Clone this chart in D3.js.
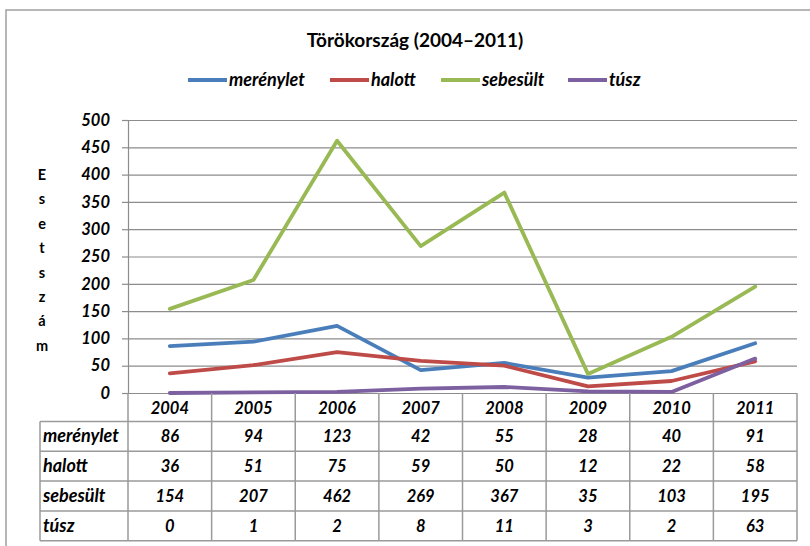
<!DOCTYPE html>
<html>
<head>
<meta charset="utf-8">
<script src="https://cdn.jsdelivr.net/npm/d3@7"></script>
<style>
  body { margin: 0; background: #fff; }
  text { font-family: Lato, "Open Sans", sans-serif; font-weight: bold; fill: #000; }
  .it { font-style: italic; }
</style>
</head>
<body>
<svg id="chart" width="810" height="546"></svg>
<script>
const years = ["2004", "2005", "2006", "2007", "2008", "2009", "2010", "2011"];
const merenylet = [86, 94, 123, 42, 55, 28, 40, 91];
const halott = [36, 51, 75, 59, 50, 12, 22, 58];
const sebesult = [154, 207, 462, 269, 367, 35, 103, 195];
const tusz = [0, 1, 2, 8, 11, 3, 2, 63];
const seriesNames = ["merénylet", "halott", "sebesült", "túsz"];
const yTicks = [0, 50, 100, 150, 200, 250, 300, 350, 400, 450, 500];
const axisLabel = "Esetszám";
const title = "Törökország (2004–2011)";

const colors = ["#4a7ebb", "#be4b48", "#98b954", "#7d60a0"];
const series = [merenylet, halott, sebesult, tusz];

const svg = d3.select("#chart");
const plot = { left: 128, right: 797, top: 120, bottom: 393 };
const wordSize = 18;   // text labels
const numSize = 16.5;  // digits

const xScale = d3.scaleBand().domain(years).range([plot.left, plot.right]);
const yScale = d3.scaleLinear().domain([0, 500]).range([plot.bottom, plot.top]);

// outer frame
svg.append("rect")
    .attr("x", 6).attr("y", 10)
    .attr("width", 820).attr("height", 560)
    .attr("fill", "none")
    .attr("stroke", "#a0a0a0")
    .attr("stroke-width", 1.5);

// title
svg.append("text")
    .attr("x", 415).attr("y", 47)
    .attr("text-anchor", "middle")
    .attr("font-size", 19)
    .text(title);

// legend
const legendX = [188, 330, 441, 568];
const legend = svg.append("g");
seriesNames.forEach((name, i) => {
    legend.append("line")
        .attr("x1", legendX[i]).attr("x2", legendX[i] + 39)
        .attr("y1", 80).attr("y2", 80)
        .attr("stroke", colors[i])
        .attr("stroke-width", 4);
    legend.append("text")
        .attr("class", "it")
        .attr("x", legendX[i] + 41).attr("y", 86)
        .attr("font-size", wordSize)
        .text(name);
});

// gridlines
const yGrid = d3.axisLeft(yScale)
    .tickValues(yTicks)
    .tickSize(-(plot.right - plot.left))
    .tickFormat("");
svg.append("g")
    .attr("transform", `translate(${plot.left},0)`)
    .call(yGrid)
    .call(g => g.select(".domain").remove())
    .call(g => g.selectAll("line").attr("stroke", "#8c8c8c").attr("stroke-width", 1.2));

// y axis
const yAxis = d3.axisLeft(yScale).tickValues(yTicks).tickSize(6).tickPadding(12);
svg.append("g")
    .attr("transform", `translate(${plot.left},0)`)
    .call(yAxis)
    .call(g => g.select(".domain").attr("stroke", "#8c8c8c").attr("stroke-width", 1.2))
    .call(g => g.selectAll("line").attr("stroke", "#8c8c8c").attr("stroke-width", 1.2))
    .call(g => g.selectAll("text")
        .attr("class", "it")
        .attr("font-size", numSize)
        .attr("font-family", null)
        .attr("fill", "#000"));

// vertical axis title, stacked letters
svg.append("g").selectAll("text")
    .data(axisLabel.split(""))
    .join("text")
    .attr("x", 42)
    .attr("y", (d, i) => 180 + i * 24.4)
    .attr("text-anchor", "middle")
    .attr("font-size", 14.5)
    .text(d => d);

// lines
const lineGen = d3.line()
    .x((d, i) => xScale(years[i]) + xScale.bandwidth() / 2)
    .y(d => yScale(d));
series.forEach((s, i) => {
    svg.append("path")
        .datum(s)
        .attr("fill", "none")
        .attr("stroke", colors[i])
        .attr("stroke-width", 3.8)
        .attr("stroke-linejoin", "round")
        .attr("stroke-linecap", "round")
        .attr("d", lineGen);
});

// data table
const table = svg.append("g");
const labelLeft = 40;
const headerBottom = 421.5;
const rowH = 29.8;
const rowY = seriesNames.map((d, i) => headerBottom + i * rowH);
const tableBottom = headerBottom + seriesNames.length * rowH;
const gridStroke = "#9a9a9a";

// vertical separators
years.concat(["end"]).forEach((y, i) => {
    const x = i < years.length ? xScale(y) : plot.right;
    table.append("line")
        .attr("x1", x).attr("x2", x)
        .attr("y1", plot.bottom).attr("y2", tableBottom)
        .attr("stroke", gridStroke).attr("stroke-width", 1.5);
});
table.append("line")
    .attr("x1", labelLeft).attr("x2", labelLeft)
    .attr("y1", headerBottom).attr("y2", tableBottom)
    .attr("stroke", gridStroke).attr("stroke-width", 1.5);

// horizontal separators
rowY.concat([tableBottom]).forEach(y => {
    table.append("line")
        .attr("x1", labelLeft).attr("x2", plot.right)
        .attr("y1", y).attr("y2", y)
        .attr("stroke", gridStroke).attr("stroke-width", 1.5);
});

// header years
table.selectAll(".yr")
    .data(years)
    .join("text")
    .attr("class", "it")
    .attr("x", d => xScale(d) + xScale.bandwidth() / 2)
    .attr("y", 414)
    .attr("text-anchor", "middle")
    .attr("font-size", numSize)
    .text(d => d);

// rows
seriesNames.forEach((name, r) => {
    const yText = rowY[r] + rowH / 2 + 6;
    table.append("text")
        .attr("class", "it")
        .attr("x", labelLeft + 3)
        .attr("y", yText)
        .attr("font-size", wordSize)
        .text(name);
    table.append("g").selectAll("text")
        .data(series[r])
        .join("text")
        .attr("class", "it")
        .attr("x", (d, i) => xScale(years[i]) + xScale.bandwidth() / 2)
        .attr("y", yText)
        .attr("text-anchor", "middle")
        .attr("font-size", numSize)
        .text(d => d);
});
</script>
</body>
</html>
